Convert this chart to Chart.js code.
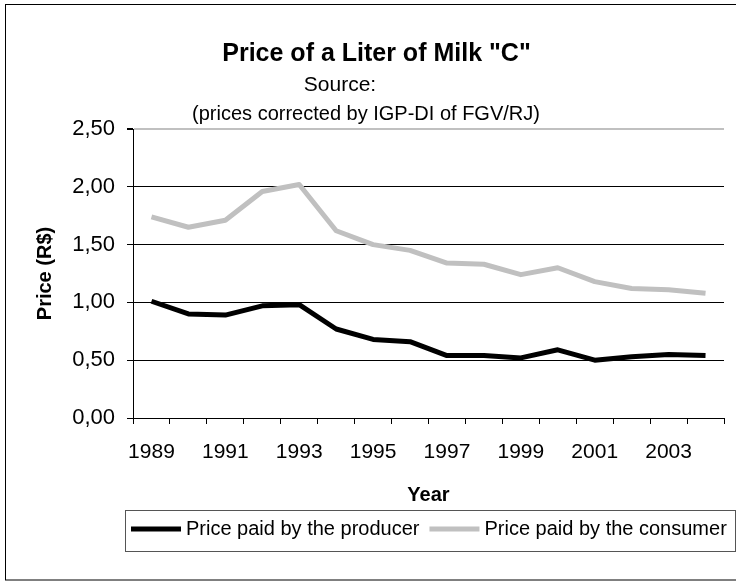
<!DOCTYPE html>
<html>
<head>
<meta charset="utf-8">
<script src="https://cdn.jsdelivr.net/npm/chart.js@4.4.1/dist/chart.umd.min.js"></script>
<style>
  body { margin: 0; background: #fff; }
  canvas { display: block; }
</style>
</head>
<body>
<canvas id="milk-chart" width="736" height="581"></canvas>
<script>
const years = ["1989", "1990", "1991", "1992", "1993", "1994", "1995", "1996",
  "1997", "1998", "1999", "2000", "2001", "2002", "2003", "2004"];
const producerPrice = [1.01, 0.90, 0.89, 0.97, 0.98, 0.77, 0.68, 0.66,
  0.54, 0.54, 0.52, 0.59, 0.50, 0.53, 0.55, 0.54];
const consumerPrice = [1.74, 1.65, 1.71, 1.96, 2.02, 1.62, 1.50, 1.45,
  1.34, 1.33, 1.24, 1.30, 1.18, 1.12, 1.11, 1.08];
const yTicks = [0, 0.5, 1, 1.5, 2, 2.5];

const FONT = "'Liberation Sans', Arial, sans-serif";

// white page, outer frame, title lines and the boxed legend
const frame = {
  id: "frame",
  beforeDraw(chart) {
    const ctx = chart.ctx;
    ctx.save();
    ctx.fillStyle = "#fff";
    ctx.fillRect(0, 0, chart.width, chart.height);
    ctx.restore();
  },
  afterDraw(chart) {
    const ctx = chart.ctx;
    ctx.save();
    ctx.strokeStyle = "#000";
    ctx.lineWidth = 1;
    ctx.strokeRect(5.5, 4.5, 800, 575.5);

    ctx.fillStyle = "#000";
    ctx.textAlign = "center";
    ctx.textBaseline = "middle";
    ctx.font = "bold 25px " + FONT;
    ctx.fillText('Price of a Liter of Milk "C"', 376.5, 54);
    ctx.font = "21px " + FONT;
    ctx.fillText("Source:", 340, 85.5);
    ctx.font = "20px " + FONT;
    ctx.fillText("(prices corrected by IGP-DI of FGV/RJ)", 366, 114);

    // legend
    ctx.strokeStyle = "#555";
    ctx.strokeRect(125.5, 510.5, 610, 41);
    ctx.font = "20px " + FONT;
    ctx.textAlign = "left";
    let x = 131;
    const y = 529;
    chart.data.datasets.forEach((ds) => {
      ctx.strokeStyle = ds.borderColor;
      ctx.lineWidth = 5;
      ctx.beginPath();
      ctx.moveTo(x, y);
      ctx.lineTo(x + 50, y);
      ctx.stroke();
      x += 55;
      ctx.fillText(ds.label, x, y);
      x += ctx.measureText(ds.label).width + 10;
    });
    ctx.restore();
  }
};

const config = {
  type: "line",
  data: {
    labels: years,
    datasets: [
      {
        label: "Price paid by the producer",
        data: producerPrice,
        borderColor: "#000000",
        backgroundColor: "#000000",
        borderWidth: 5,
        borderJoinStyle: "round",
        pointRadius: 0,
        tension: 0,
        fill: false,
      },
      {
        label: "Price paid by the consumer",
        data: consumerPrice,
        borderColor: "#c0c0c0",
        backgroundColor: "#c0c0c0",
        borderWidth: 5,
        borderJoinStyle: "round",
        pointRadius: 0,
        tension: 0,
        fill: false,
      },
    ],
  },
  options: {
    responsive: false,
    animation: false,
    layout: {
      padding: { left: 0, top: 129, right: 12, bottom: 0 },
    },
    plugins: {
      legend: { display: false },
      title: { display: false },
      tooltip: { enabled: false },
    },
    scales: {
      x: {
        offset: true,
        afterFit: (scale) => { scale.height = 163; },
        grid: {
          offset: true,
          drawOnChartArea: false,
          drawTicks: true,
          tickLength: 6,
          color: "#000",
        },
        border: { display: true, color: "#000", width: 1 },
        ticks: {
          autoSkip: false,
          maxRotation: 0,
          padding: 16,
          color: "#000",
          font: { family: FONT, size: 21 },
          callback: (v, i) => (i % 2 === 0 ? years[i] : ""),
        },
        title: {
          display: true,
          text: "Year",
          color: "#000",
          font: { family: FONT, size: 20, weight: "bold" },
          padding: { top: 0, bottom: 74 },
        },
      },
      y: {
        min: 0,
        max: 2.5,
        afterFit: (scale) => { scale.width = 133; },
        afterBuildTicks: (scale) => {
          scale.ticks = yTicks.map((v) => ({ value: v }));
        },
        grid: {
          color: (ctx) => (ctx.tick && ctx.tick.value === 2.5 ? "#c0c0c0" : "#000"),
          lineWidth: (ctx) => (ctx.tick && ctx.tick.value === 2.5 ? 2 : 1),
          tickColor: "#000",
          tickLength: 6,
        },
        border: { display: true, color: "#000", width: 1 },
        ticks: {
          padding: 12,
          color: "#000",
          font: { family: FONT, size: 22 },
          callback: (v) => v.toFixed(2).replace(".", ","),
        },
        title: {
          display: true,
          text: "Price (R$)",
          color: "#000",
          font: { family: FONT, size: 20, weight: "bold" },
          padding: { top: 33, bottom: 0 },
        },
      },
    },
  },
  plugins: [frame],
};

const ctx = document.getElementById("milk-chart").getContext("2d");
const milkChart = new Chart(ctx, config);
</script>
</body>
</html>
